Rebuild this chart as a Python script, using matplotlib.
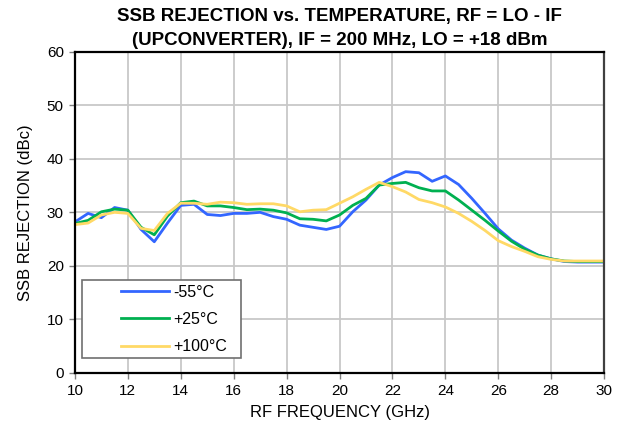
import numpy as np
import matplotlib.pyplot as plt
from matplotlib.patches import Rectangle

plt.rcParams['font.family'] = ['Liberation Sans', 'DejaVu Sans']

# ------------------------------------------------------------
# Данные
# ------------------------------------------------------------
rf_freq = np.arange(10.0, 30.01, 0.5)

ssb_m55 = [28.2, 29.8, 29.0, 30.9, 30.4, 26.8, 24.5, 28.0, 31.3, 31.5,
           29.6, 29.4, 29.8, 29.8, 30.0, 29.2, 28.7, 27.6, 27.2, 26.8,
           27.4, 30.1, 32.3, 35.1, 36.5, 37.6, 37.4, 35.8, 36.8, 35.2,
           32.6, 29.8, 26.9, 24.8, 23.3, 22.0, 21.3, 20.8, 20.7, 20.7,
           20.7]

ssb_p25 = [27.9, 28.5, 30.1, 30.6, 30.4, 27.2, 25.8, 29.3, 31.8, 32.1,
           31.2, 31.2, 30.9, 30.5, 30.6, 30.4, 29.9, 28.8, 28.7, 28.4,
           29.5, 31.3, 32.6, 35.1, 35.4, 35.6, 34.6, 34.0, 34.0, 32.3,
           30.4, 28.5, 26.5, 24.6, 23.1, 22.0, 21.3, 20.9, 20.8, 20.8,
           20.8]

ssb_p100 = [27.7, 28.0, 29.5, 30.0, 29.8, 27.0, 26.6, 29.8, 31.7, 31.7,
            31.5, 31.9, 31.8, 31.5, 31.6, 31.6, 31.2, 30.1, 30.4, 30.5,
            31.7, 32.9, 34.3, 35.6, 34.8, 33.8, 32.4, 31.8, 31.0, 29.8,
            28.3, 26.6, 24.7, 23.6, 22.7, 21.7, 21.2, 20.9, 20.9, 20.9,
            20.9]

labels = ["-55°C", "+25°C", "+100°C"]
colors = ["#3366FF", "#00B050", "#FFD966"]

x_ticks = list(range(10, 31, 2))
y_ticks = list(range(0, 61, 10))

# ------------------------------------------------------------
# График
# ------------------------------------------------------------
fig = plt.figure(figsize=(6.19, 4.32), dpi=100)
ax = fig.add_axes([0.121, 0.137, 0.855, 0.743])

for series, label, color in zip([ssb_m55, ssb_p25, ssb_p100], labels, colors):
    ax.plot(rf_freq, series, color=color, linewidth=2.0, label=label)

ax.set_xlim(10, 30)
ax.set_ylim(0, 60)
ax.set_xticks(x_ticks)
ax.set_yticks(y_ticks)
ax.grid(True, color="#C8C8C8", linewidth=1.3)
ax.set_axisbelow(True)

for side in ["left", "bottom", "top"]:
    ax.spines[side].set_color("black")
    ax.spines[side].set_linewidth(1.6)
ax.spines["right"].set_color("#404040")
ax.spines["right"].set_linewidth(1.6)

ax.tick_params(axis="both", direction="out", length=4, width=1,
               color="#808080", labelsize=11, pad=4)

ax.set_xlabel("RF FREQUENCY (GHz)", fontsize=12, labelpad=5)
ax.set_ylabel("SSB REJECTION (dBc)", fontsize=12, labelpad=10)
ax.set_title("SSB REJECTION vs. TEMPERATURE, RF = LO - IF\n"
             "(UPCONVERTER), IF = 200 MHz, LO = +18 dBm",
             fontsize=13.5, fontweight="bold", linespacing=1.5, pad=5)

# рамка легенды отдельно, записи легенды без рамки внутри неё
legend_box = Rectangle((0.013, 0.047), 0.30, 0.243, transform=ax.transAxes,
                       facecolor="white", edgecolor="#707070", linewidth=1.2,
                       zorder=4)
ax.add_patch(legend_box)

leg = ax.legend(loc="center left", bbox_to_anchor=(0.087, 0.166),
                borderaxespad=0, borderpad=0, frameon=False, fontsize=11.5,
                handlelength=3.0, handletextpad=0.3, labelspacing=0.77)
leg.set_zorder(5)

plt.savefig("out.png", dpi=100)
